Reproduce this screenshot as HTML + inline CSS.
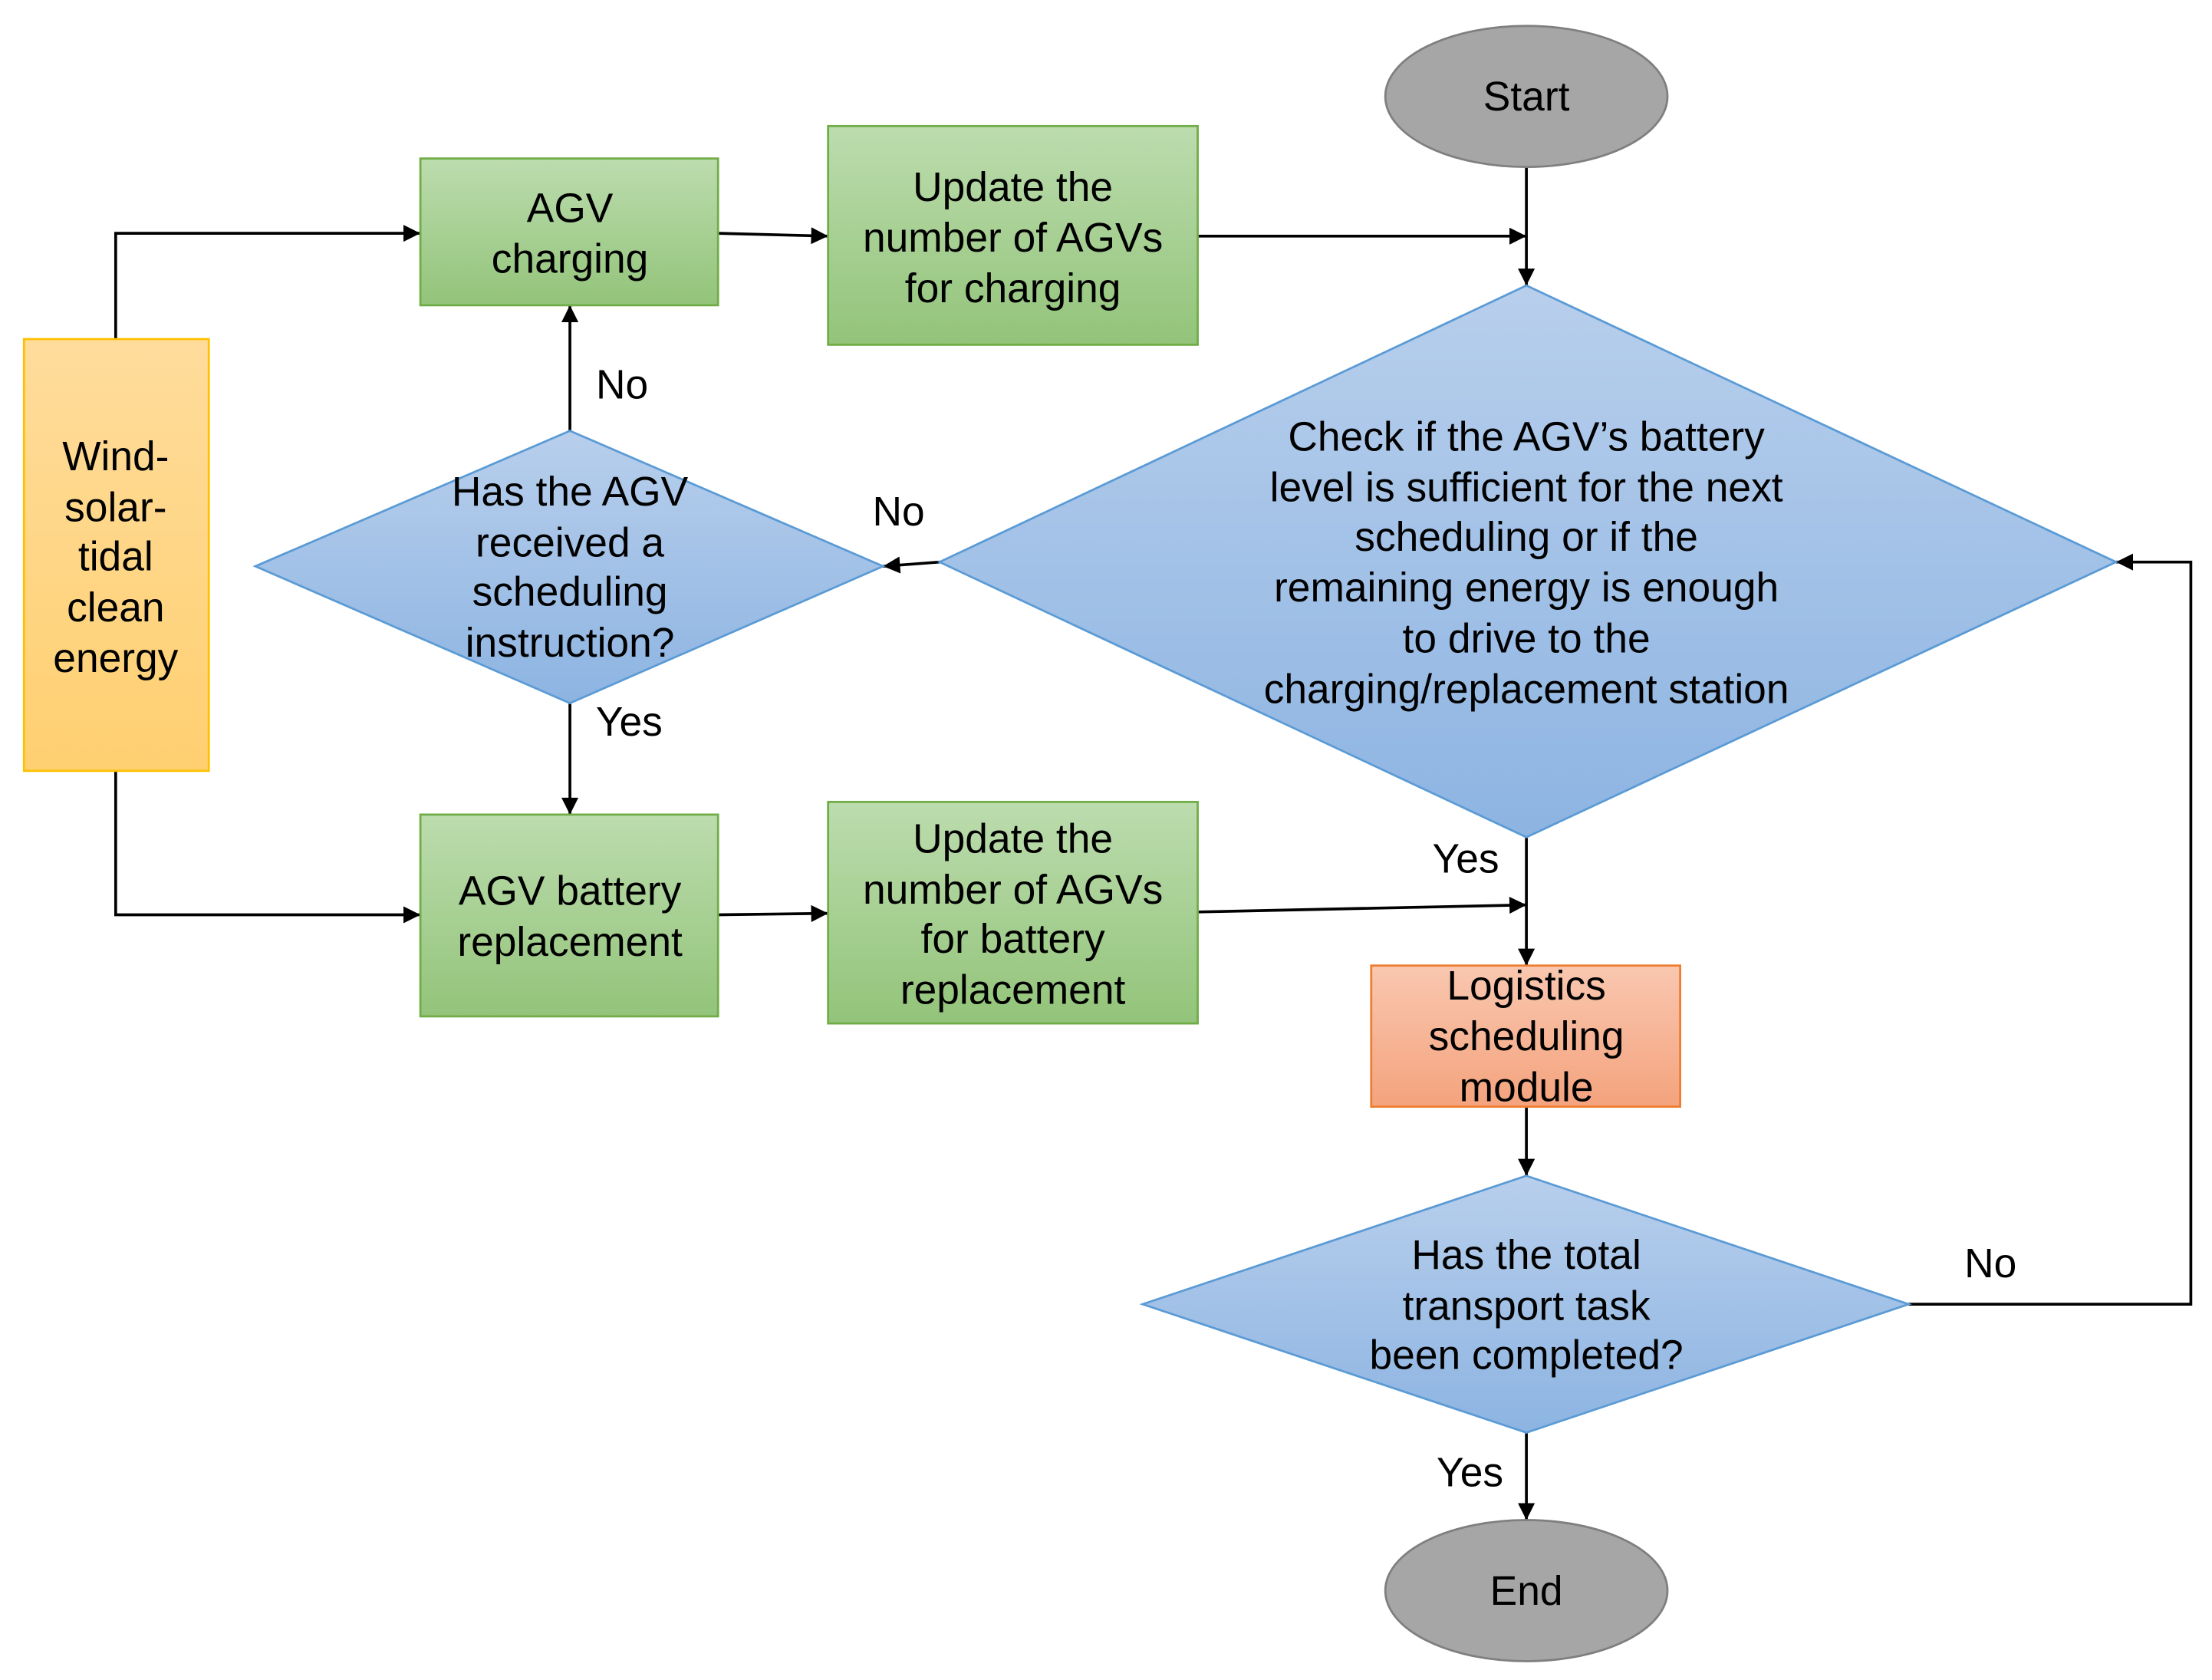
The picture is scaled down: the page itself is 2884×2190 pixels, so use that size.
<!DOCTYPE html>
<html><head><meta charset="utf-8"><style>
html,body{margin:0;padding:0;background:#fff;}
svg{display:block;}
text{font-family:"Liberation Sans","Noto Sans CJK SC",sans-serif;font-size:29px;fill:#000;text-anchor:middle;}
</style></head><body>
<svg width="2884" height="2190" viewBox="0 0 1568 1190" xmlns="http://www.w3.org/2000/svg">
<defs>
<linearGradient id="g" x1="0" y1="0" x2="0" y2="1"><stop offset="0" stop-color="#bcdcae"/><stop offset="1" stop-color="#93c47a"/></linearGradient>
<linearGradient id="b" x1="0" y1="0" x2="0" y2="1"><stop offset="0" stop-color="#b8cfec"/><stop offset="1" stop-color="#8db4e2"/></linearGradient>
<linearGradient id="o" x1="0" y1="0" x2="0" y2="1"><stop offset="0" stop-color="#ffdc9c"/><stop offset="1" stop-color="#ffd071"/></linearGradient>
<linearGradient id="r" x1="0" y1="0" x2="0" y2="1"><stop offset="0" stop-color="#f9c7b0"/><stop offset="1" stop-color="#f4a37d"/></linearGradient>
<marker id="a" viewBox="0 0 10 10" refX="10" refY="5" markerWidth="14" markerHeight="12" orient="auto" markerUnits="userSpaceOnUse"><path d="M0,0 L10,5 L0,10z" fill="#000"/></marker>
</defs>
<g stroke="#000" stroke-width="2" fill="none" marker-end="url(#a)">
<polyline points="82,240 82,165 298,165"/>
<polyline points="82,546 82,648 298,648"/>
<line x1="509" y1="165" x2="587" y2="167"/>
<line x1="849" y1="167" x2="1082" y2="167"/>
<line x1="1082" y1="118" x2="1082" y2="202"/>
<line x1="666" y1="398" x2="626" y2="401"/>
<line x1="404" y1="305" x2="404" y2="216"/>
<line x1="404" y1="498" x2="404" y2="577"/>
<line x1="509" y1="648" x2="587" y2="647"/>
<line x1="849" y1="646" x2="1082" y2="641"/>
<line x1="1082" y1="593" x2="1082" y2="684"/>
<line x1="1082" y1="784" x2="1082" y2="833"/>
<polyline points="1353,924 1553,924 1553,398 1500,398"/>
<line x1="1082" y1="1015" x2="1082" y2="1077"/>
</g>
<ellipse cx="1082" cy="68" rx="100" ry="50" fill="#a6a6a6" stroke="#7f7f7f" stroke-width="1.5"/>
<ellipse cx="1082" cy="1127" rx="100" ry="50" fill="#a6a6a6" stroke="#7f7f7f" stroke-width="1.5"/>
<rect x="298" y="112" width="211" height="104" fill="url(#g)" stroke="#70ad47" stroke-width="1.5"/>
<rect x="587" y="89" width="262" height="155" fill="url(#g)" stroke="#70ad47" stroke-width="1.5"/>
<rect x="298" y="577" width="211" height="143" fill="url(#g)" stroke="#70ad47" stroke-width="1.5"/>
<rect x="587" y="568" width="262" height="157" fill="url(#g)" stroke="#70ad47" stroke-width="1.5"/>
<rect x="17" y="240" width="131" height="306" fill="url(#o)" stroke="#ffc000" stroke-width="1.5"/>
<rect x="972" y="684" width="219" height="100" fill="url(#r)" stroke="#ed7d31" stroke-width="1.5"/>
<polygon points="1082,202 1500,398 1082,593 666,398" fill="url(#b)" stroke="#5b9bd5" stroke-width="1.5"/>
<polygon points="404,305 626,401 404,498 181,401" fill="url(#b)" stroke="#5b9bd5" stroke-width="1.5"/>
<polygon points="1082,833 1353,924 1082,1015 810,924" fill="url(#b)" stroke="#5b9bd5" stroke-width="1.5"/>
<text x="1082" y="78">Start</text>
<text x="1082" y="1137">End</text>
<text x="404" y="157">AGV</text><text x="404" y="193">charging</text>
<text x="718" y="142">Update the</text><text x="718" y="178">number of AGVs</text><text x="718" y="214">for charging</text>
<text x="404" y="641">AGV battery</text><text x="404" y="677">replacement</text>
<text x="718" y="604">Update the</text><text x="718" y="640">number of AGVs</text><text x="718" y="675">for battery</text><text x="718" y="711">replacement</text>
<text x="82" y="333">Wind-</text><text x="82" y="369">solar-</text><text x="82" y="404">tidal</text><text x="82" y="440">clean</text><text x="82" y="476">energy</text>
<text x="1082" y="708">Logistics</text><text x="1082" y="744">scheduling</text><text x="1082" y="780">module</text>
<text x="1082" y="319">Check if the AGV’s battery</text>
<text x="1082" y="355">level is sufficient for the next</text>
<text x="1082" y="390">scheduling or if the</text>
<text x="1082" y="426">remaining energy is enough</text>
<text x="1082" y="462">to drive to the</text>
<text x="1082" y="498">charging/replacement station</text>
<text x="404" y="358">Has the AGV</text><text x="404" y="394">received a</text><text x="404" y="429">scheduling</text><text x="404" y="465">instruction?</text>
<text x="1082" y="899">Has the total</text><text x="1082" y="935">transport task</text><text x="1082" y="970">been completed?</text>
<text x="637" y="372">No</text>
<text x="441" y="282">No</text>
<text x="446" y="521">Yes</text>
<text x="1039" y="618">Yes</text>
<text x="1411" y="905">No</text>
<text x="1042" y="1053">Yes</text>
</svg>
</body></html>
